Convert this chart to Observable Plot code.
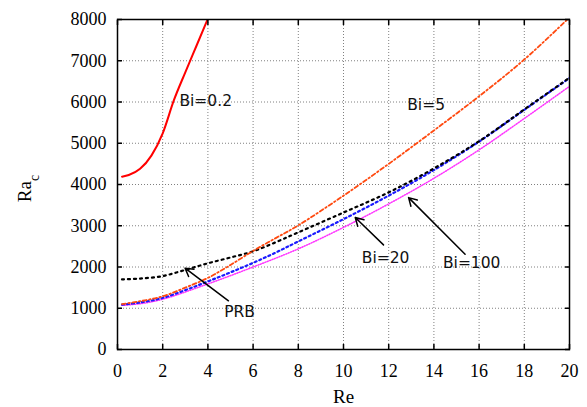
<!DOCTYPE html>
<html>
<head>
<meta charset="utf-8">
<script src="https://cdn.jsdelivr.net/npm/d3@7"></script>
<script src="https://cdn.jsdelivr.net/npm/@observablehq/plot@0.6"></script>
<style>
  html, body { margin: 0; padding: 0; background: white; }
</style>
</head>
<body>
<div id="chart"></div>
<script>
// Tick values
const xTicks = [0, 2, 4, 6, 8, 10, 12, 14, 16, 18, 20];
const yTicks = [0, 1000, 2000, 3000, 4000, 5000, 6000, 7000, 8000];

// Series: Bi=0.2 (red solid)
const bi02Re = [0.2, 0.5, 1, 1.5, 2, 2.5, 3, 3.5, 4];
const bi02Ra = [4190, 4230, 4380, 4700, 5240, 6050, 6720, 7370, 8020];

// Bi=5 (orange dash-dot)
const bi5Re = [0.2, 1, 2, 3, 4, 5, 6, 7, 8, 10, 12, 14, 16, 18, 20];
const bi5Ra = [1100, 1170, 1290, 1500, 1735, 2050, 2390, 2700, 3010, 3730, 4500, 5310, 6140, 7030, 8050];

// PRB (black dotted)
const prbRe = [0.2, 1, 2, 3, 4, 5, 6, 7, 8, 10, 12, 14, 16, 18, 20];
const prbRa = [1700, 1720, 1780, 1930, 2090, 2230, 2380, 2600, 2840, 3320, 3810, 4390, 5050, 5820, 6590];

// Bi=20 (blue dotted)
const bi20Re = [0.2, 1, 2, 3, 4, 5, 6, 7, 8, 10, 12, 14, 16, 18, 20];
const bi20Ra = [1090, 1140, 1250, 1440, 1650, 1870, 2100, 2350, 2620, 3160, 3730, 4350, 5040, 5810, 6580];

// Bi=100 (magenta fine dotted)
const bi100Re = [0.2, 1, 2, 4, 6, 8, 10, 12, 14, 16, 18, 20];
const bi100Ra = [1070, 1110, 1220, 1590, 2000, 2440, 2960, 3530, 4150, 4840, 5600, 6380];

// Annotations
const labelText = ["Bi=0.2", "Bi=5", "Bi=20", "Bi=100", "PRB"];
const labelRe = [2.74, 12.82, 10.81, 14.4, 4.72];
const labelRa = [6034, 5928, 2229, 2108, 897];

const arrowRe1 = [4.91, 11.77, 15.38];
const arrowRa1 = [1180, 2536, 2311];
const arrowRe2 = [2.99, 10.52, 12.88];
const arrowRa2 = [1972, 3198, 3682];

const toRows = (xs, ys) => xs.map((x, i) => ({x, y: ys[i]}));
const labels = labelText.map((t, i) => ({t, x: labelRe[i], y: labelRa[i]}));
const arrows = arrowRe1.map((x1, i) => ({x1, y1: arrowRa1[i], x2: arrowRe2[i], y2: arrowRa2[i]}));

const gridStyle = {stroke: "#808080", strokeOpacity: 1, strokeWidth: 1, strokeDasharray: "1,2"};
const tickStyle = {tickSize: 5, tickFormat: () => "", label: null, strokeWidth: 1.5};
const fmt = d => String(d);

const chart = Plot.plot({
  width: 587,
  height: 407,
  marginLeft: 117,
  marginRight: 18,
  marginTop: 19,
  marginBottom: 58,
  x: {domain: [0, 20]},
  y: {domain: [0, 8000]},
  style: {fontFamily: "Liberation Serif", fontSize: "18px", background: "white", color: "black"},
  marks: [
    Plot.gridX(xTicks, gridStyle),
    Plot.gridY(yTicks, gridStyle),
    Plot.line(toRows(bi100Re, bi100Ra), {x: "x", y: "y", stroke: "#ff33ff", strokeWidth: 1.5, strokeDasharray: "1,1.5", curve: "catmull-rom", clip: true}),
    Plot.line(toRows(bi20Re, bi20Ra), {x: "x", y: "y", stroke: "#1a1aff", strokeWidth: 2.2, strokeDasharray: "2,3", curve: "catmull-rom", clip: true}),
    Plot.line(toRows(prbRe, prbRa), {x: "x", y: "y", stroke: "black", strokeWidth: 2.2, strokeDasharray: "2,4", curve: "catmull-rom", clip: true}),
    Plot.line(toRows(bi5Re, bi5Ra), {x: "x", y: "y", stroke: "#ff4a10", strokeWidth: 1.8, strokeDasharray: "4,2.5,1.5,2.5", curve: "catmull-rom", clip: true}),
    Plot.line(toRows(bi02Re, bi02Ra), {x: "x", y: "y", stroke: "#ff0000", strokeWidth: 2, curve: "monotone-x", clip: true}),
    Plot.arrow(arrows, {x1: "x1", y1: "y1", x2: "x2", y2: "y2", stroke: "black", strokeWidth: 1.5, headLength: 9, bend: 0}),
    Plot.text(labels, {x: "x", y: "y", text: "t", textAnchor: "start", lineAnchor: "middle", fontFamily: "DejaVu Sans", fontSize: 15.5, fill: "#111"}),
    Plot.frame({stroke: "black", strokeWidth: 1.5}),
    Plot.axisX(xTicks, {...tickStyle, anchor: "bottom", dy: -5}),
    Plot.axisX(xTicks, {...tickStyle, anchor: "top", dy: 5}),
    Plot.axisY(yTicks, {...tickStyle, anchor: "left", dx: 5}),
    Plot.axisY(yTicks, {...tickStyle, anchor: "right", dx: -5}),
    Plot.axisX(xTicks, {anchor: "bottom", tickSize: 0, tickPadding: 15, label: null, fontSize: 18, tickFormat: fmt}),
    Plot.axisY(yTicks, {anchor: "left", tickSize: 0, tickPadding: 11, label: null, fontSize: 18, tickFormat: fmt}),
    Plot.text(["Re"], {frameAnchor: "bottom", dy: 47, lineAnchor: "middle", textAnchor: "middle", fontSize: 19, fontFamily: "Liberation Serif"}),
    Plot.text(["Rac"], {frameAnchor: "left", dx: -93, dy: 4, rotate: -90, lineAnchor: "middle", textAnchor: "middle", fontSize: 19, fontFamily: "Liberation Serif"})
  ]
});

d3.select(chart).selectAll("text")
  .filter(function() { return this.textContent === "Rac"; })
  .each(function() {
    const t = d3.select(this);
    t.text("Ra");
    t.append("tspan").attr("baseline-shift", "sub").attr("font-size", "14px").text("c");
  });

document.getElementById("chart").appendChild(chart);
</script>
</body>
</html>
